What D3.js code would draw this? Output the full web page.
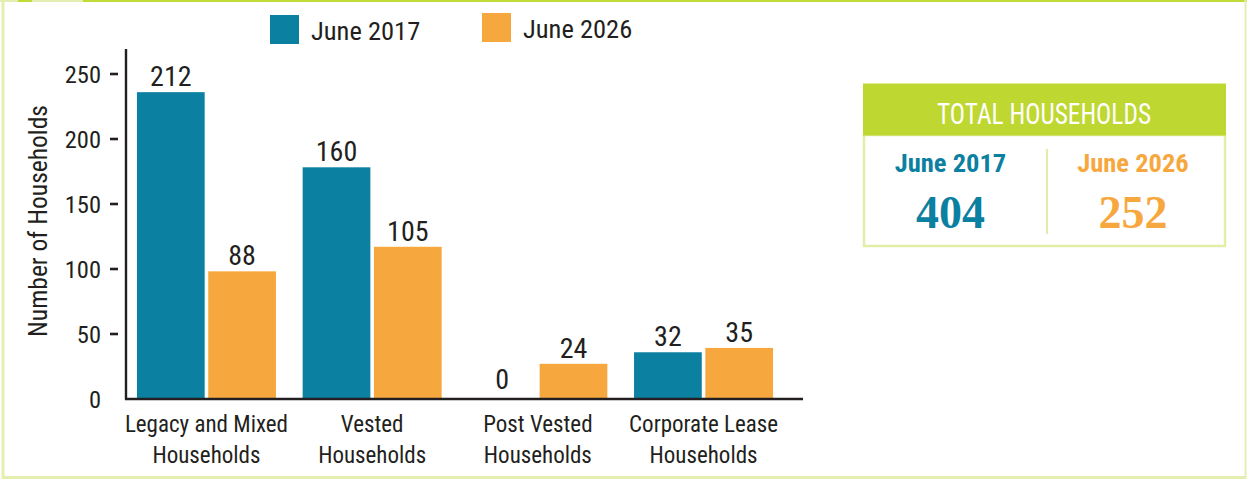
<!DOCTYPE html>
<html>
<head>
<meta charset="utf-8">
<script src="https://cdn.jsdelivr.net/npm/d3@7"></script>
<style>
  body { margin: 0; background: #fff; }
  text { font-family: "Roboto Condensed", Roboto, sans-serif; fill: #231f20; }
</style>
</head>
<body>
<div id="chart-area"></div>
<script>
var categories = [["Legacy and Mixed", "Households"], ["Vested", "Households"], ["Post Vested", "Households"], ["Corporate Lease", "Households"]];
var seriesNames = ["June 2017", "June 2026"];
var june2017 = [212, 160, 0, 32];
var june2026 = [88, 105, 24, 35];
var totals = [404, 252];
var yTicks = [0, 50, 100, 150, 200, 250];

var colors = ["#0c80a1", "#f6a83f"];
var width = 1247, height = 480;
var baseline = 398.5;

var svg = d3.select("#chart-area")
    .append("svg")
        .attr("width", width)
        .attr("height", height);

// frame
svg.append("line").attr("x1", 0).attr("x2", 83).attr("y1", 1).attr("y2", 1)
    .attr("stroke", "#e3efb0").attr("stroke-width", 2);
svg.append("line").attr("x1", 18).attr("x2", 32).attr("y1", 1).attr("y2", 1)
    .attr("stroke", "#c2da36").attr("stroke-width", 2);
svg.append("line").attr("x1", 83).attr("x2", width).attr("y1", 1).attr("y2", 1)
    .attr("stroke", "#c2da36").attr("stroke-width", 2);
svg.append("line").attr("x1", 3).attr("x2", 3).attr("y1", 0).attr("y2", 479)
    .attr("stroke", "#e3efb0").attr("stroke-width", 3);
svg.append("line").attr("x1", 2).attr("x2", 1246).attr("y1", 477.5).attr("y2", 477.5)
    .attr("stroke", "#e3efb0").attr("stroke-width", 3);
svg.append("line").attr("x1", 1245.5).attr("x2", 1245.5).attr("y1", 0).attr("y2", 479)
    .attr("stroke", "#e3efb0").attr("stroke-width", 2);

function label(parent, x, y, str, size, sx, opts) {
    opts = opts || {};
    var t = parent.append("g")
        .attr("transform", "translate(" + x + "," + y + ")" + (opts.rotate ? " rotate(" + opts.rotate + ")" : "") + " scale(" + sx + ",1)")
        .append("text")
        .attr("text-anchor", opts.anchor || "middle")
        .attr("font-size", size + "px")
        .text(str);
    if (opts.weight) t.attr("font-weight", opts.weight);
    if (opts.fill) t.style("fill", opts.fill);
    if (opts.family) t.style("font-family", opts.family);
    return t;
}

var x0 = d3.scaleBand().domain(d3.range(categories.length))
    .range([123.6, 786.4]).paddingInner(0.161).paddingOuter(0.0805);
var x1 = d3.scaleBand().domain(seriesNames).range([0, x0.bandwidth()]).paddingInner(0.05);

// axis labels and bar heights don't agree in the original graphic,
// so the bars get their own scale
var yAxisScale = d3.scaleLinear().domain([0, 250]).range([baseline, 73.5]);
var yBar = d3.scaleLinear().domain([0, 250]).range([baseline, baseline - 250 * 1.445]);

var g = svg.append("g");

var rows = categories.map(function(c, i) {
    return seriesNames.map(function(s, j) {
        return { cat: i, series: s, value: j === 0 ? june2017[i] : june2026[i], color: colors[j] };
    });
});

var groups = g.selectAll(".cat").data(rows).enter().append("g")
    .attr("class", "cat")
    .attr("transform", function(d, i) { return "translate(" + x0(i) + ",0)"; });

groups.selectAll("rect").data(function(d) { return d; }).enter().append("rect")
    .attr("x", function(d) { return x1(d.series); })
    .attr("y", function(d) { return yBar(d.value); })
    .attr("width", x1.bandwidth())
    .attr("height", function(d) { return baseline - yBar(d.value); })
    .attr("fill", function(d) { return d.color; });

groups.each(function(d) {
    var grp = d3.select(this);
    d.forEach(function(b) {
        label(grp, x1(b.series) + x1.bandwidth() / 2, yBar(b.value) - (b.value === 0 ? 10 : 6), b.value, 28, 1);
    });
});

// category labels
categories.forEach(function(c, i) {
    var cx = x0(i) + x0.bandwidth() / 2;
    label(g, cx, 432, c[0], 23, 1);
    label(g, cx, 463, c[1], 23, 1);
});

// y axis
var yAxisGroup = g.append("g")
    .attr("transform", "translate(118,0)")
    .call(d3.axisLeft(yAxisScale).tickValues(yTicks).tickSize(8).tickPadding(0));
yAxisGroup.select(".domain").remove();
yAxisGroup.selectAll(".tick line").attr("stroke", "#231f20").attr("stroke-width", 2.6);
yAxisGroup.selectAll(".tick line").filter(function(d) { return d === 0; }).remove();
yAxisGroup.selectAll(".tick text")
    .attr("x", -17)
    .attr("dy", "0.36em")
    .attr("font-size", "24.5px")
    .style("font-family", "\"Roboto Condensed\", Roboto, sans-serif")
    .style("fill", "#231f20");

g.append("line").attr("x1", 126).attr("x2", 126).attr("y1", 49).attr("y2", baseline + 1)
    .attr("stroke", "#231f20").attr("stroke-width", 2.4);
g.append("line").attr("x1", 125).attr("x2", 803).attr("y1", baseline + 0.5).attr("y2", baseline + 0.5)
    .attr("stroke", "#231f20").attr("stroke-width", 2.4);

label(g, 47, 221, "Number of Households", 25.5, 1, { rotate: -90 });

// legend
var legendX = [270, 482];
var legendY = [15, 13];
seriesNames.forEach(function(s, i) {
    g.append("rect").attr("x", legendX[i]).attr("y", legendY[i])
        .attr("width", 29).attr("height", 29).attr("fill", colors[i]);
    label(g, legendX[i] + 41, legendY[i] + 25, s, 26.5, 1, { anchor: "start" });
});

// totals panel
var panel = svg.append("g");
panel.append("rect").attr("x", 864).attr("y", 135).attr("width", 361).attr("height", 111)
    .attr("fill", "#fff").attr("stroke", "#e1eea6").attr("stroke-width", 2.5);
panel.append("rect").attr("x", 863).attr("y", 83.5).attr("width", 363).attr("height", 52)
    .attr("fill", "#bed731");
panel.append("line").attr("x1", 1047).attr("x2", 1047).attr("y1", 149).attr("y2", 234)
    .attr("stroke", "#e1eea6").attr("stroke-width", 2);
label(panel, 1044, 124, "TOTAL HOUSEHOLDS", 29.5, 0.86, { fill: "#fff" });

var panelX = [950.5, 1133];
seriesNames.forEach(function(s, i) {
    label(panel, panelX[i], 171.5, s, 26.5, 1, { weight: 700, fill: colors[i] });
    label(panel, panelX[i], 228, totals[i], 46, 1, { weight: 700, fill: colors[i], family: "\"Liberation Serif\", serif" });
});
</script>
</body>
</html>
